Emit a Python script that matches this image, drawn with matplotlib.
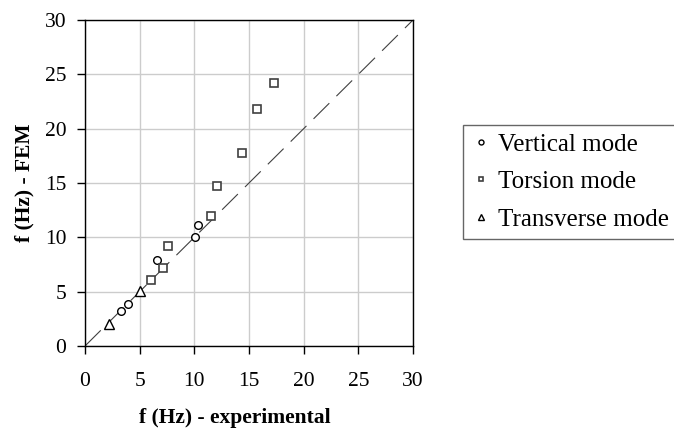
import matplotlib
matplotlib.use("Agg")
import matplotlib.pyplot as plt

# f (Hz): experimental vs FEM
vertical_exp = [3.3, 3.9, 6.6, 10.1, 10.3]
vertical_fem = [3.25, 3.85, 7.9, 10.0, 11.15]
torsion_exp = [6.05, 7.15, 7.55, 11.5, 12.1, 14.35, 15.7, 17.25]
torsion_fem = [6.1, 7.2, 9.2, 12.0, 14.75, 17.75, 21.8, 24.2]
transverse_exp = [2.15, 5.0]
transverse_fem = [2.0, 5.1]
ticks = [0, 5, 10, 15, 20, 25, 30]

plt.rcParams["font.family"] = ["Liberation Serif", "DejaVu Serif"]

fig = plt.figure(figsize=(6.74, 4.30), dpi=100)
ax = fig.add_axes([85 / 674, 84 / 430, 328 / 674, 326 / 430])

ax.plot([0, 30], [0, 30], color="#404040", linewidth=0.8,
        linestyle=(0, (20, 9)), zorder=2)

marker_kw = dict(linestyle="none", markerfacecolor="white", zorder=3)
ax.plot(vertical_exp, vertical_fem, marker="o", markersize=5.5,
        markeredgecolor="black", markeredgewidth=1.0,
        label="Vertical mode", **marker_kw)
ax.plot(torsion_exp, torsion_fem, marker="s", markersize=5.5,
        markeredgecolor="#404040", markeredgewidth=1.2,
        label="Torsion mode", **marker_kw)
ax.plot(transverse_exp, transverse_fem, marker="^", markersize=6.5,
        markeredgecolor="black", markeredgewidth=1.0,
        label="Transverse mode", **marker_kw)

ax.set_xlim(0, 30)
ax.set_ylim(0, 30)
ax.set_xticks(ticks)
ax.set_yticks(ticks)
ax.tick_params(direction="out", length=5.5, width=1, labelsize=15.5,
               color="black")
ax.tick_params(axis="x", pad=13)
ax.tick_params(axis="y", pad=8)
ax.grid(True, color="#cccccc", linewidth=1)
ax.set_axisbelow(True)
for spine in ax.spines.values():
    spine.set_color("black")
    spine.set_linewidth(1)

ax.set_xlabel("f (Hz) - experimental", fontsize=15.5, fontweight="bold")
ax.set_ylabel("f (Hz) - FEM", fontsize=15.5, fontweight="bold")
ax.xaxis.set_label_coords(0.457, -0.19)
ax.yaxis.set_label_coords(-0.155, 0.5)

leg = fig.legend(loc="upper left", bbox_to_anchor=(463 / 674, 1 - 125 / 430),
                 fontsize=18, markerscale=0.65, frameon=True, fancybox=False,
                 edgecolor="#404040", borderpad=0.32, labelspacing=0.6,
                 handlelength=0.8, handletextpad=0.3, borderaxespad=0)
leg.get_frame().set_linewidth(1)

fig.savefig("out.png", dpi=100)
